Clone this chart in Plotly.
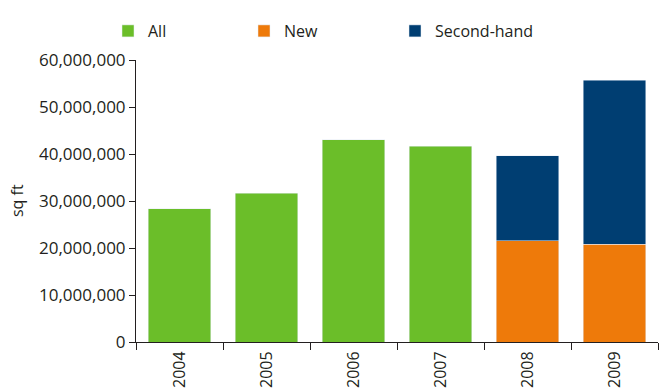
import plotly.graph_objects as go

years = ["2004", "2005", "2006", "2007", "2008", "2009"]
all_space = [28_300_000, 31_700_000, 43_000_000, 41_700_000, None, None]
new_space = [None, None, None, None, 21_500_000, 20_850_000]
second_hand = [None, None, None, None, 18_100_000, 34_850_000]

GREEN = "#6BBE29"
ORANGE = "#EE7A0A"
NAVY = "#003E72"
TEXT = "#231F20"
FONT = "Open Sans"
W, H = 659, 392
ML, MR, MT, MB = 136, 1, 60, 50

fig = go.Figure()
fig.add_trace(go.Bar(name="All", x=years, y=all_space, marker_color=GREEN, legend="legend"))
fig.add_trace(go.Bar(name="New", x=years, y=new_space, marker_color=ORANGE, legend="legend2"))
fig.add_trace(go.Bar(name="Second-hand", x=years, y=second_hand, marker_color=NAVY, legend="legend3"))


def legend_at(px):
    # one-item legend placed by its left edge in pixels, centred on the key row
    return dict(
        x=px / W, xref="container",
        y=1 - 31 / H, yref="container",
        xanchor="left", yanchor="middle",
        itemwidth=30,
        font=dict(family=FONT, size=16, color=TEXT),
        bgcolor="rgba(0,0,0,0)",
    )


fig.update_layout(
    barmode="stack",
    bargap=0.28,
    width=W,
    height=H,
    margin=dict(l=ML, r=MR, t=MT, b=MB, autoexpand=False),
    paper_bgcolor="white",
    plot_bgcolor="white",
    font=dict(family=FONT, size=16, color=TEXT),
    showlegend=True,
    legend=legend_at(108),
    legend2=legend_at(244),
    legend3=legend_at(395),
    xaxis=dict(
        type="category",
        showline=True,
        linecolor=TEXT,
        linewidth=1,
        ticks="outside",
        ticklen=7,
        tickcolor=TEXT,
        tickson="boundaries",
        tickangle=-90,
        ticklabelstandoff=2,
        tickfont=dict(size=16),
        showgrid=False,
        automargin=False,
    ),
    yaxis=dict(
        range=[0, 60_000_000],
        tickvals=[0, 10_000_000, 20_000_000, 30_000_000, 40_000_000, 50_000_000, 60_000_000],
        tickformat=",",
        showline=True,
        linecolor=TEXT,
        linewidth=1,
        ticks="outside",
        ticklen=6,
        tickcolor=TEXT,
        tickfont=dict(size=17),
        showgrid=False,
        zeroline=False,
        automargin=False,
    ),
    annotations=[
        dict(
            text="sq ft",
            textangle=-90,
            xref="paper", yref="paper",
            x=(17 - ML) / (W - ML - MR), y=0.5,
            xanchor="center", yanchor="middle",
            showarrow=False,
            font=dict(family=FONT, size=16, color=TEXT),
        )
    ],
)

fig.write_html("out.html")
